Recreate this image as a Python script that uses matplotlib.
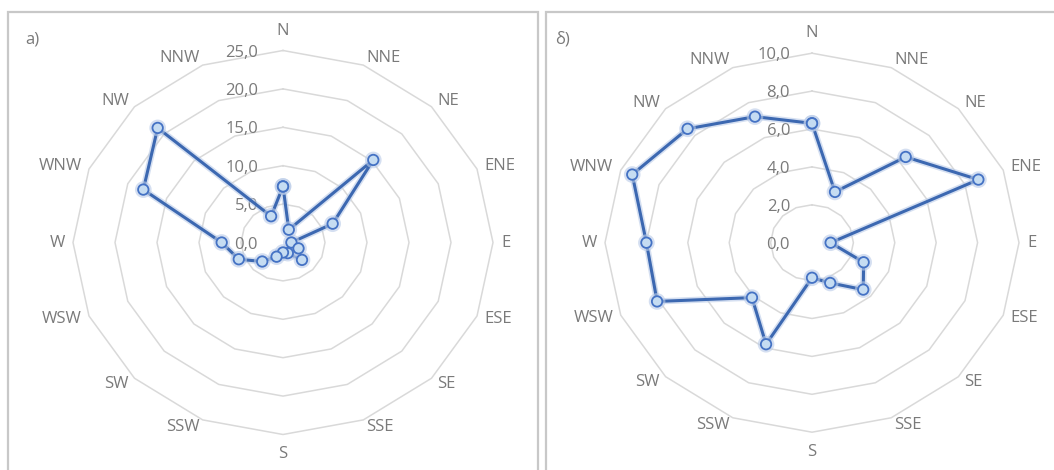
import numpy as np
import matplotlib
matplotlib.use("Agg")
import matplotlib.pyplot as plt
import matplotlib.patheffects as pe
from matplotlib.patches import Rectangle

plt.rcParams['font.family'] = ['Open Sans', 'DejaVu Sans']

directions = ["N", "NNE", "NE", "ENE", "E", "ESE", "SE", "SSE",
              "S", "SSW", "SW", "WSW", "W", "WNW", "NW", "NNW"]
values_a = [7.3, 1.8, 15.2, 6.4, 1.0, 2.0, 3.2, 1.5,
            1.3, 2.0, 3.5, 5.7, 7.3, 18.0, 21.1, 3.7]
values_b = [6.3, 2.9, 6.4, 8.7, 0.9, 2.7, 3.5, 2.3,
            1.85, 5.8, 4.1, 8.1, 8.0, 9.4, 8.5, 7.2]
ticks_a = [0, 5, 10, 15, 20, 25]
ticks_b = [0, 2, 4, 6, 8, 10]
panel_labels = ["a)", "δ)"]

W, H = 1054, 470
DPI = 100
fig = plt.figure(figsize=(W / DPI, H / DPI), dpi=DPI)
fig.patch.set_facecolor("white")

TXT = "#7a7a7a"
GRID = "#d9d9d9"
LINE = "#3c68b1"
PX = 72.0 / DPI  # points per pixel
FS = 12


def px_rect(x0, y0, x1, y1):
    return [x0 / W, 1 - y1 / H, (x1 - x0) / W, (y1 - y0) / H]


def radar(cx, cy, rx, ry, values, ticks, val_dx):
    ax = fig.add_axes(px_rect(cx - rx, cy - ry, cx + rx, cy + ry), projection="polar")
    ax.set_aspect("auto")
    ax.set_theta_zero_location("N")
    ax.set_theta_direction(-1)
    rmax = ticks[-1]
    ax.set_ylim(0, rmax)
    ax.grid(False)
    ax.set_xticks([])
    ax.set_yticks([])
    ax.spines["polar"].set_visible(False)
    ax.patch.set_alpha(0)

    n = len(directions)
    ang = np.arange(n) * 2 * np.pi / n
    ang_c = np.append(ang, ang[0])

    for t in ticks[1:]:
        ax.plot(ang_c, [t] * (n + 1), color=GRID, lw=1.1, zorder=1, clip_on=False)

    # category labels
    for a, name in zip(ang, directions):
        s, c = np.sin(a), np.cos(a)
        if abs(s) < 1e-6:
            if c > 0:
                off, ha, va = (0, 12 * PX), "center", "bottom"
            else:
                off, ha, va = (0, -12 * PX), "center", "top"
        else:
            off = (8 * s * PX, 8 * c * PX)
            ha = "left" if s > 0 else "right"
            va = "center"
        ax.annotate(name, xy=(a, rmax), xytext=off, textcoords="offset points",
                    ha=ha, va=va, fontsize=FS, color=TXT, annotation_clip=False)

    # value labels
    for t in ticks:
        ax.annotate(f"{t:.1f}".replace(".", ","), xy=(0, t),
                    xytext=(-val_dx * PX, -2 * PX), textcoords="offset points",
                    ha="right", va="center", fontsize=FS, color=TXT,
                    annotation_clip=False)

    vals_c = np.append(values, values[0])
    ax.plot(ang_c, vals_c, color=LINE, lw=2.2, zorder=3, clip_on=False,
            marker="o", markersize=7.5, markerfacecolor="#c5dcf2",
            markeredgecolor="#4472c4", markeredgewidth=1.3,
            path_effects=[pe.Stroke(linewidth=4.5, foreground="#b9cbe8", alpha=0.6),
                          pe.Normal()])
    return ax


radar(283, 242.5, 210, 192, values_a, ticks_a, 25)
radar(812, 242.7, 207, 189.5, values_b, ticks_b, 22)

# panel frames
fig.add_artist(Rectangle((8 / W, -0.1), (538 - 8) / W, 1.1 - 12 / H,
                         transform=fig.transFigure, fill=False,
                         ec="#c8c8c8", lw=1.6))
fig.add_artist(Rectangle((546 / W, -0.1), (1070 - 546) / W, 1.1 - 12 / H,
                         transform=fig.transFigure, fill=False,
                         ec="#c8c8c8", lw=1.6))

fig.text(25 / W, 1 - 40 / H, panel_labels[0], fontsize=FS, color=TXT,
         ha="left", va="center")
fig.text(555 / W, 1 - 40 / H, panel_labels[1], fontsize=FS, color=TXT,
         ha="left", va="center")

fig.savefig("out.png", dpi=DPI, facecolor="white")
